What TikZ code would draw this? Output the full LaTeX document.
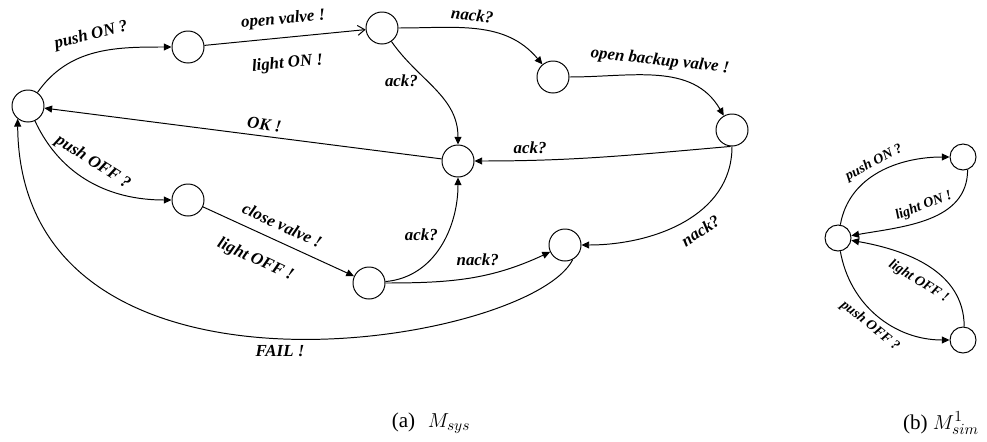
\documentclass[tikz,border=0pt]{standalone}
\usepackage{fontspec}
\setmainfont{Liberation Serif}
\usetikzlibrary{arrows.meta}

\begin{document}
\begin{tikzpicture}[x=0.025cm,y=0.025cm,
    loc/.style={draw,circle,line width=0.7pt,minimum size=0.8cm,inner sep=0pt},
    sloc/.style={loc,minimum size=0.65cm},
    tr/.style={line width=0.7pt,-{Triangle[length=5.5pt,width=5pt]}},
    op/.style={line width=0.7pt,-{Straight Barb[length=5pt,width=7pt]}},
    lbl/.style={font=\fontsize{12}{14}\selectfont\bfseries\itshape,inner sep=1pt},
    slbl/.style={font=\fontsize{10}{12}\selectfont\bfseries\itshape,inner sep=1pt}]
  \useasboundingbox (0,0) rectangle (987,-441);
  % (a) system
  \node[loc] (s0) at (28,-106) {};
  \node[loc] (s1) at (188,-47) {};
  \node[loc] (s2) at (382,-28) {};
  \node[loc] (s3) at (553,-77) {};
  \node[loc] (s4) at (732,-130) {};
  \node[loc] (s5) at (458,-161) {};
  \node[loc] (s6) at (188,-200) {};
  \node[loc] (s7) at (369,-283) {};
  \node[loc] (s8) at (565,-245) {};
  \draw[tr] (s0) to[out=55,in=180] node[lbl,sloped,above=6pt] {push ON ?} (s1);
  \draw[op] (s1) -- node[lbl,sloped,above=6pt] {open valve !} node[lbl,sloped,below=12pt] {light ON !} (s2);
  \draw[tr] (s2) to[out=0,in=130] node[lbl,sloped,above=4pt,pos=0.45] {nack?} (s3);
  \draw[tr] (s2) to[out=-55,in=90] node[lbl,left=5pt,pos=0.4] {ack?} (s5);
  \draw[tr] (s3) to[out=0,in=120] node[lbl,sloped,above=4pt] {open backup valve !} (s4);
  \draw[tr] (s4.265) to[out=185,in=0] node[lbl,above=3pt,pos=0.8] {ack?} (s5);
  \draw[tr] (s5) -- node[lbl,sloped,above=3pt,pos=0.45] {OK !} (s0);
  \draw[tr] (s0) to[out=-65,in=180] node[lbl,sloped,above=6pt,pos=0.45] {push OFF ?} (s6);
  \draw[tr] (s6) -- node[lbl,sloped,above=6pt,pos=0.48] {close valve !} node[lbl,sloped,below=12pt,pos=0.42] {light OFF !} (s7);
  \draw[tr] (s7) to[out=5,in=-90] node[lbl,left=5pt,pos=0.6] {ack?} (s5);
  \draw[tr] (s7) to[out=0,in=-155] node[lbl,above=6pt,pos=0.55] {nack?} (s8);
  \draw[tr] (s4) to[out=-90,in=0] node[lbl,sloped,below=6pt,pos=0.45] {nack?} (s8);
  \draw[tr] (s8.298) .. controls (530,-345) and (20,-430) .. node[lbl,below=4pt] {FAIL !} (s0.231);
  % (b) simulation
  \node[sloc] (l0) at (838,-238) {};
  \node[sloc] (l1) at (963,-157) {};
  \node[sloc] (l2) at (963,-340) {};
  \draw[tr] (l0) to[out=80,in=180] node[slbl,sloped,above=2pt] {push ON ?} (l1);
  \draw[tr] (l1.-70) to[out=-90,in=10] node[slbl,sloped,above=4pt,pos=0.5] {light ON !} (l0);
  \draw[tr] (l2.85) to[out=90,in=-10] node[slbl,sloped,below=7pt,pos=0.5] {light OFF !} (l0);
  \draw[tr] (l0) to[out=-80,in=180] node[slbl,sloped,below=3pt] {push OFF ?} (l2);
  % captions
  \node[font=\fontsize{15}{18}\selectfont] (capa) at (431,-423) {(a)\hspace{0.6em}$M_{sys}$};
  \node[font=\fontsize{15}{18}\selectfont] (capb) at (941,-423) {(b) $M^1_{sim}$};
\end{tikzpicture}
\end{document}
